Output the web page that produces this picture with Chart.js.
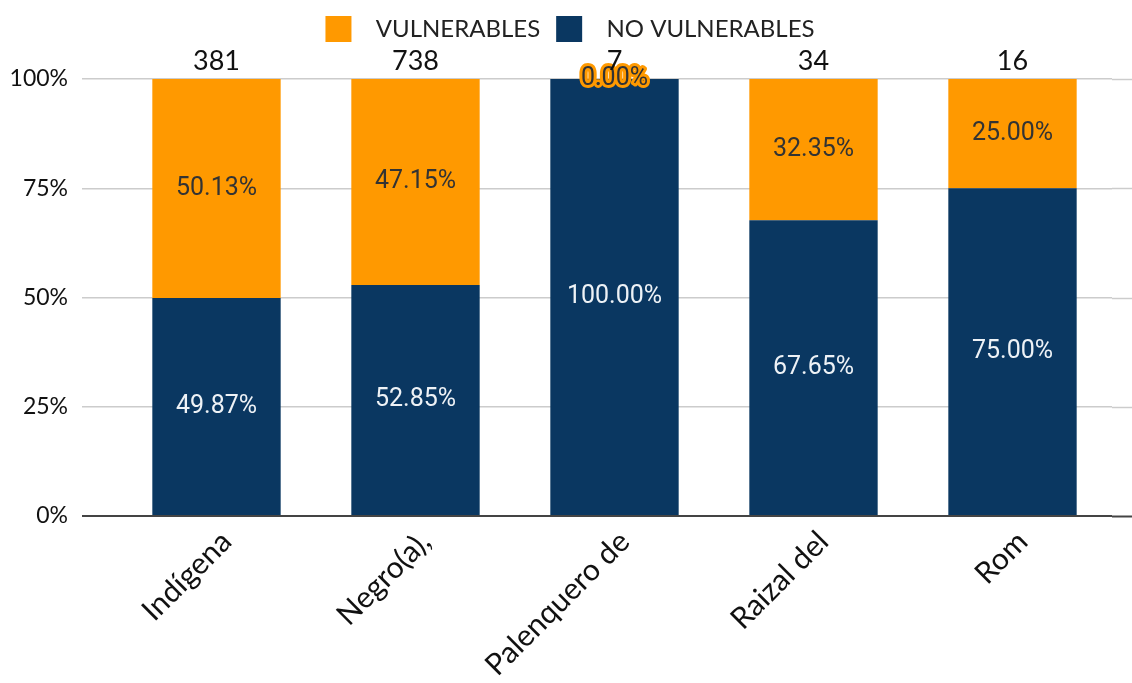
<!DOCTYPE html>
<html>
<head>
<meta charset="utf-8">
<script src="https://cdn.jsdelivr.net/npm/chart.js@4/dist/chart.umd.min.js"></script>
<style>
  html, body { margin: 0; padding: 0; background: #fff; }
  #wrap { width: 1132px; height: 683px; }
</style>
</head>
<body>
<div id="wrap"><canvas id="chart"></canvas></div>
<script>
// grafica de barras apiladas 100%
var categorias = ['Indígena', 'Negro(a),', 'Palenquero de', 'Raizal del', 'Rom'];
var vulnerables = [50.13, 47.15, 0.00, 32.35, 25.00];
var noVulnerables = [49.87, 52.85, 100.00, 67.65, 75.00];
var totales = [381, 738, 7, 34, 16];

var naranja = '#FF9900';
var azul = '#0A3761';

// etiquetas de porcentaje y totales
var etiquetas = {
    id: 'etiquetas',
    afterDatasetsDraw: function(chart) {
        var ctx = chart.ctx;
        ctx.save();
        ctx.textAlign = 'center';
        ctx.textBaseline = 'middle';
        ctx.font = '25px Roboto';
        chart.data.datasets.forEach(function(ds, i) {
            var meta = chart.getDatasetMeta(i);
            meta.data.forEach(function(el, j) {
                var v = ds.data[j];
                var y = (el.y + el.base) / 2;
                var txt = v.toFixed(2) + '%';
                if (v === 0) {
                    ctx.lineJoin = 'round';
                    ctx.lineWidth = 6;
                    ctx.strokeStyle = naranja;
                    ctx.strokeText(txt, el.x, y);
                    ctx.fillStyle = '#333';
                } else {
                    ctx.fillStyle = ds.label === 'VULNERABLES' ? '#333' : '#eef2f6';
                }
                ctx.fillText(txt, el.x, y);
            });
        });
        ctx.font = '27px Lato';
        ctx.fillStyle = '#111';
        var top = chart.scales.y.getPixelForValue(100);
        chart.getDatasetMeta(0).data.forEach(function(el, j) {
            ctx.fillText(totales[j], el.x, top - 18);
        });
        ctx.restore();
    }
};

// prolongar las lineas de la cuadricula a la derecha
var lineasDerecha = {
    id: 'lineasDerecha',
    beforeDatasetsDraw: function(chart) {
        var ctx = chart.ctx, y = chart.scales.y;
        ctx.save();
        y.ticks.forEach(function(t) {
            var py = Math.round(y.getPixelForValue(t.value)) + 0.5;
            ctx.strokeStyle = t.value === 0 ? '#444' : '#cccccc';
            ctx.lineWidth = t.value === 0 ? 2 : 1.5;
            ctx.beginPath();
            ctx.moveTo(chart.chartArea.right, py);
            ctx.lineTo(chart.width, py);
            ctx.stroke();
        });
        ctx.restore();
    }
};

// espacio extra debajo de la leyenda y leyenda algo a la derecha
var espacioLeyenda = {
    id: 'espacioLeyenda',
    afterInit: function(chart) {
        var fit = chart.legend.fit;
        chart.legend.fit = function() {
            fit.call(this);
            this.height += 27;
        };
    },
    afterLayout: function(chart) {
        chart.legend.left += 14;
        chart.legend.right += 14;
    }
};

function crear() {
    var datos = {
        type: 'bar',
        data: {
            labels: categorias,
            datasets: [{
                label: 'NO VULNERABLES',
                data: noVulnerables,
                backgroundColor: azul,
                barPercentage: 0.645,
                categoryPercentage: 1
            }, {
                label: 'VULNERABLES',
                data: vulnerables,
                backgroundColor: naranja,
                barPercentage: 0.645,
                categoryPercentage: 1
            }]
        },
        options: {
            responsive: true,
            maintainAspectRatio: false,
            animation: false,
            layout: { padding: { left: 0, right: 20, top: 0, bottom: 0 } },
            plugins: {
                legend: {
                    reverse: true,
                    labels: {
                        boxWidth: 26,
                        boxHeight: 26,
                        padding: 16,
                        color: '#222',
                        font: { family: 'Lato', size: 24 },
                        generateLabels: function(chart) {
                            var items = Chart.defaults.plugins.legend.labels.generateLabels(chart);
                            items.forEach(function(it) {
                                it.text = '  ' + it.text;
                                it.lineWidth = 0;
                            });
                            return items;
                        }
                    }
                },
                tooltip: { enabled: false }
            },
            scales: {
                x: {
                    stacked: true,
                    grid: { display: false },
                    border: { display: false },
                    ticks: {
                        color: '#111',
                        font: { family: 'Lato', size: 30 },
                        minRotation: 45,
                        maxRotation: 45,
                        padding: 0,
                        labelOffset: 10
                    },
                    afterFit: function(axis) { axis.height = 167; }
                },
                y: {
                    stacked: true,
                    min: 0,
                    max: 100,
                    border: { display: false },
                    grid: {
                        tickLength: 35,
                        lineWidth: function(c) { return c.tick && c.tick.value === 0 ? 2 : 1.5; },
                        color: function(c) { return c.tick && c.tick.value === 0 ? '#444' : '#cccccc'; }
                    },
                    ticks: {
                        stepSize: 25,
                        padding: 14,
                        color: '#111',
                        font: { family: 'Lato', size: 23 },
                        callback: function(v) { return v + '%'; }
                    },
                    afterFit: function(axis) { axis.width = 117; }
                }
            }
        },
        plugins: [etiquetas, lineasDerecha, espacioLeyenda]
    };
    var canvas = document.getElementById('chart').getContext('2d');
    window.barras = new Chart(canvas, datos);
}

Promise.all([
    document.fonts.load('23px Lato'),
    document.fonts.load('25px Roboto')
]).then(crear, crear);
// fin de la grafica
</script>
</body>
</html>
